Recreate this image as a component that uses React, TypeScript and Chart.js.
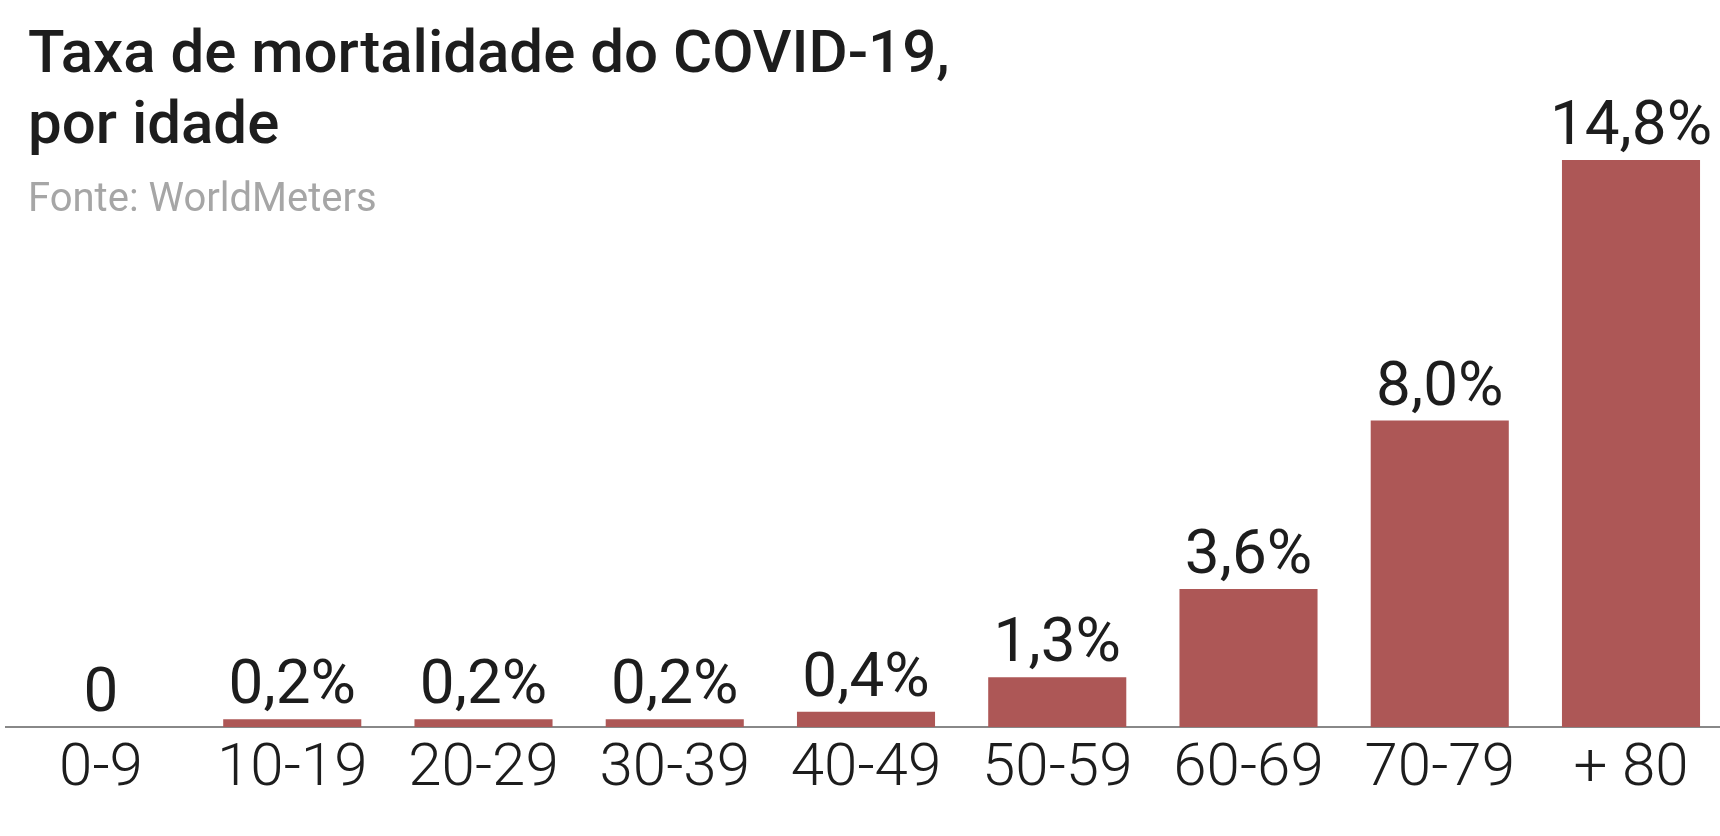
import React, { useEffect, useRef } from "react";
import { Chart, registerables } from "chart.js";

Chart.register(...registerables);

const categories = ["0-9", "10-19", "20-29", "30-39", "40-49", "50-59", "60-69", "70-79", "+ 80"];
const deathRates = [0, 0.2, 0.2, 0.2, 0.4, 1.3, 3.6, 8.0, 14.8];
const titleLines = ["Taxa de mortalidade do COVID-19,", "por idade"];
const sourceText = "Fonte: WorldMeters";

const BAR_COLOR = "#ad5756";
const TEXT_COLOR = "#1d1d1d";
const AXIS_COLOR = "#888888";
const SOURCE_COLOR = "#a6a6a6";

function formatRate(v: number): string {
  return v === 0 ? "0" : v.toFixed(1).replace(".", ",") + "%";
}

export default function App() {
  const canvasRef = useRef<HTMLCanvasElement | null>(null);

  useEffect(() => {
    const canvas = canvasRef.current;
    if (!canvas) return;

    const axisLine = {
      id: "axisLine",
      beforeDatasetsDraw(chart: any) {
        const ctx = chart.ctx;
        const y = chart.scales.y.getPixelForValue(0);
        ctx.save();
        ctx.strokeStyle = AXIS_COLOR;
        ctx.lineWidth = 2;
        ctx.beginPath();
        ctx.moveTo(5, y);
        ctx.lineTo(chart.width, y);
        ctx.stroke();
        ctx.restore();
      },
    };

    const valueLabels = {
      id: "valueLabels",
      afterDatasetsDraw(chart: any) {
        const ctx = chart.ctx;
        const meta = chart.getDatasetMeta(0);
        ctx.save();
        ctx.fillStyle = TEXT_COLOR;
        ctx.font = "400 62px Roboto";
        ctx.textAlign = "center";
        ctx.textBaseline = "alphabetic";
        meta.data.forEach((bar: any, i: number) => {
          ctx.fillText(formatRate(deathRates[i]), bar.x, bar.y - 16);
        });
        ctx.restore();
      },
    };

    const chart = new Chart(canvas, {
      type: "bar",
      data: {
        labels: categories,
        datasets: [
          {
            data: deathRates,
            backgroundColor: BAR_COLOR,
            borderWidth: 0,
            categoryPercentage: 1,
            barPercentage: 0.722,
            clip: false,
          },
        ],
      },
      options: {
        animation: false,
        responsive: true,
        maintainAspectRatio: false,
        layout: { padding: { left: 101, right: 89, top: 114, bottom: 23 } },
        plugins: {
          legend: { display: false },
          tooltip: { enabled: false },
          title: { display: false },
        },
        scales: {
          x: {
            type: "category",
            offset: false,
            grid: { display: false, drawTicks: false, tickLength: 0 },
            border: { display: false },
            ticks: {
              color: TEXT_COLOR,
              font: { family: "Roboto", size: 60, weight: "300" },
              padding: 7,
              maxRotation: 0,
              autoSkip: false,
            },
          },
          y: {
            display: false,
            min: 0,
            max: 16,
          },
        },
      },
      plugins: [axisLine, valueLabels],
    });

    return () => {
      chart.destroy();
    };
  }, []);

  return (
    <div
      style={{
        position: "absolute",
        left: 0,
        top: 0,
        width: 1720,
        height: 836,
        background: "#ffffff",
        overflow: "hidden",
      }}
    >
      <canvas ref={canvasRef} style={{ position: "absolute", left: 0, top: 0 }} />
      <div
        style={{
          position: "absolute",
          left: 28,
          top: 16,
          fontFamily: "Roboto",
          fontWeight: 500,
          fontSize: 60,
          lineHeight: "71px",
          color: TEXT_COLOR,
          whiteSpace: "nowrap",
        }}
      >
        {titleLines.map((line, i) => (
          <div key={i}>{line}</div>
        ))}
      </div>
      <div
        style={{
          position: "absolute",
          left: 28,
          top: 178,
          fontFamily: "Roboto",
          fontWeight: 400,
          fontSize: 40,
          lineHeight: "40px",
          color: SOURCE_COLOR,
          whiteSpace: "nowrap",
        }}
      >
        {sourceText}
      </div>
    </div>
  );
}
